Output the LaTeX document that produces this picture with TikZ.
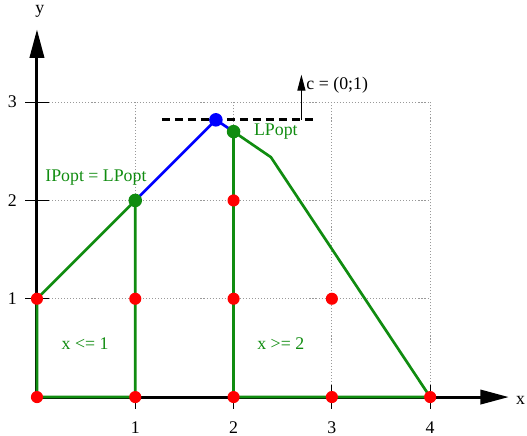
\documentclass[tikz,border=0pt]{standalone}
\usepackage{fontspec}
\setmainfont{Liberation Serif}
\usepackage{xcolor}
\usetikzlibrary{arrows.meta,positioning}
\definecolor{lpgreen}{RGB}{16,140,16}

\begin{document}
\begin{tikzpicture}[
    x=1.94cm, y=1.94cm,
    axis/.style={
      draw,
      line width=1.7pt,
      -{Triangle[length=16pt,width=8pt]}
    },
    tickline/.style={draw, line width=0.6pt},
    gridline/.style={draw, gray!80, line width=0.6pt, dash pattern=on 0.6pt off 1.1pt},
    hull/.style={draw, lpgreen, line width=1.5pt, line join=round},
    relax/.style={draw, blue, line width=1.5pt, line join=round},
    objline/.style={draw, line width=1.7pt, dash pattern=on 4.5pt off 2.8pt},
    cvec/.style={draw, line width=0.7pt, -{Triangle[length=9pt,width=4.5pt]}},
    ipt/.style={circle, fill=red, inner sep=0pt, minimum size=6.8pt},
    opt/.style={circle, fill=lpgreen, inner sep=0pt, minimum size=7.6pt},
    lpt/.style={circle, fill=blue, inner sep=0pt, minimum size=7.6pt},
    glabel/.style={text=lpgreen, inner sep=1pt}
  ]
  \useasboundingbox (-0.376,-0.387) rectangle (4.985,4.039);

  \coordinate (o) at (0,0);
  \coordinate (xend) at (4.8,0);
  \coordinate (yend) at (0,3.74);
  \coordinate (a) at (0,1);
  \coordinate (b) at (1,2);
  \coordinate (c) at (1,0);
  \coordinate (d) at (2,0);
  \coordinate (e) at (2,2.7);
  \coordinate (k) at (2.38,2.44);
  \coordinate (f) at (4,0);
  \coordinate (lp) at (1.82,2.82);
  \coordinate (dl) at (1.27,2.82);
  \coordinate (dr) at (2.85,2.82);
  \coordinate (cb) at (2.69,2.82);
  \coordinate (ct) at (2.69,3.28);

  \draw[gridline, step={(1,1)}] (0,0) grid (4,3);

  \draw[axis] (o) -- (xend);
  \draw[axis] (o) -- (yend);
  \node (xlab) at (4.92,-0.03) {x};
  \node (ylab) at (0.03,3.92) {y};

  \draw[tickline] (-0.12,1) -- (0.12,1);
  \draw[tickline] (-0.12,2) -- (0.12,2);
  \draw[tickline] (-0.12,3) -- (0.12,3);
  \draw[tickline] (1,-0.12) -- (1,0.12);
  \draw[tickline] (2,-0.12) -- (2,0.12);
  \draw[tickline] (3,-0.12) -- (3,0.12);
  \draw[tickline] (4,-0.12) -- (4,0.12);
  \node (ty1) at (-0.25,1) {1};
  \node (ty2) at (-0.25,2) {2};
  \node (ty3) at (-0.25,3) {3};
  \node (tx1) at (1,-0.315) {1};
  \node (tx2) at (2,-0.315) {2};
  \node (tx3) at (3,-0.315) {3};
  \node (tx4) at (4,-0.315) {4};

  \draw[hull] (c) -- (o) -- (a) -- (b) -- cycle;
  \draw[hull] (d) -- (f) -- (k) -- (e) -- cycle;
  \draw[relax] (b) -- (lp) -- (e);

  \draw[objline] (dl) -- (dr);
  \draw[cvec] (cb) -- (ct);
  \node[anchor=west, inner sep=1pt] (clab) at (2.72,3.17) {c = (0;1)};

  \node[glabel] (iplab) at (0.60,2.235) {IPopt = LPopt};
  \node[glabel] (lplab) at (2.43,2.70) {LPopt};
  \node[glabel] (left) at (0.49,0.54) {x <= 1};
  \node[glabel] (right) at (2.48,0.54) {x >= 2};

  \node[ipt] (p00) at (o) {};
  \node[ipt] (p10) at (c) {};
  \node[ipt] (p20) at (d) {};
  \node[ipt] (p30) at (3,0) {};
  \node[ipt] (p40) at (f) {};
  \node[ipt] (p01) at (a) {};
  \node[ipt] (p11) at (1,1) {};
  \node[ipt] (p21) at (2,1) {};
  \node[ipt] (p31) at (3,1) {};
  \node[ipt] (p22) at (2,2) {};
  \node[opt] (ipopt) at (b) {};
  \node[opt] (lpopt2) at (e) {};
  \node[lpt] (lpopt) at (lp) {};
\end{tikzpicture}
\end{document}
